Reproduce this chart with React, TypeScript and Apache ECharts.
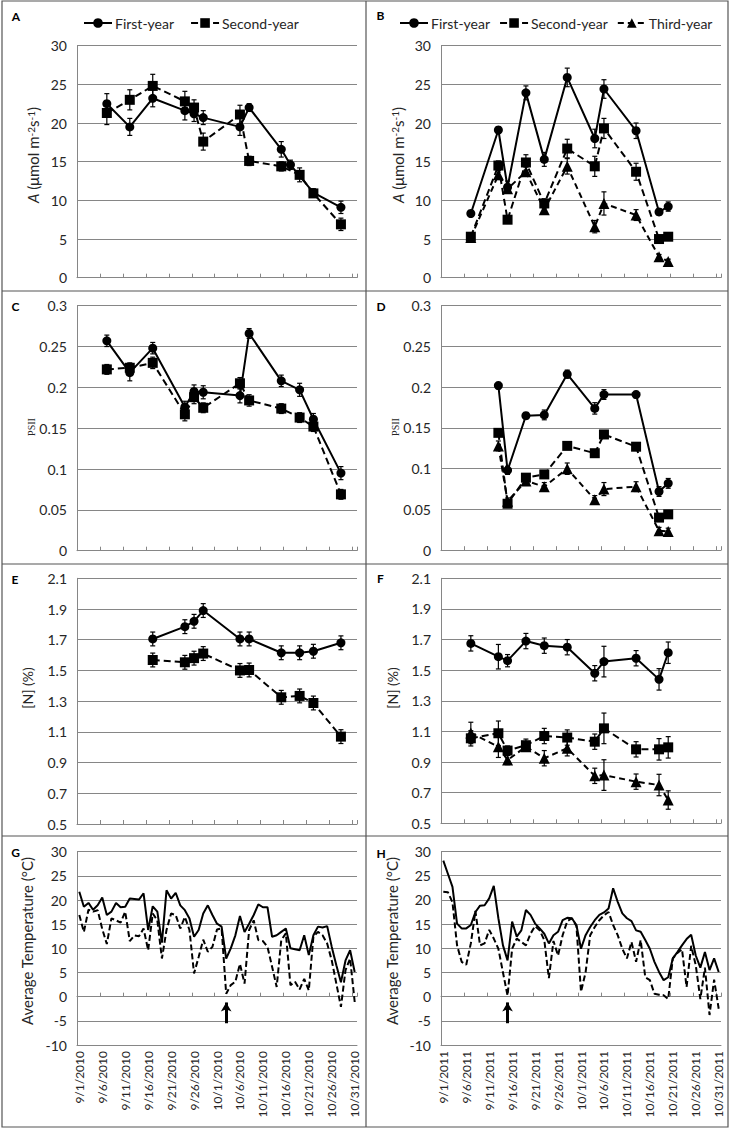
import React, { useEffect, useRef } from "react";
import * as echarts from "echarts";

const FONT = 'Lato, "Open Sans", sans-serif';
const SERIF = '"Liberation Serif", "DejaVu Serif", serif';
const GRID_COLOR = "#868686";
const TEXT = "#262626";
const BORDER = "#555";

function seasonDays(year: number): string[] {
  const out: string[] = [];
  for (let d = 1; d <= 30; d++) out.push(`9/${d}/${year}`);
  for (let d = 1; d <= 31; d++) out.push(`10/${d}/${year}`);
  return out;
}
const days2010 = seasonDays(2010);
const days2011 = seasonDays(2011);

// ---- measurement dates ----
const datesA1 = ["9/7", "9/12", "9/17", "9/24", "9/26", "9/28", "10/6", "10/8", "10/15", "10/17", "10/22", "10/28"];
const datesA2 = ["9/7", "9/12", "9/17", "9/24", "9/26", "9/28", "10/6", "10/8", "10/15", "10/19", "10/22", "10/28"];
const datesC = ["9/7", "9/12", "9/17", "9/24", "9/26", "9/28", "10/6", "10/8", "10/15", "10/19", "10/22", "10/28"];
const datesE = ["9/17", "9/24", "9/26", "9/28", "10/6", "10/8", "10/15", "10/19", "10/22", "10/28"];
const dates2011 = ["9/7", "9/13", "9/15", "9/19", "9/23", "9/28", "10/4", "10/6", "10/13", "10/18", "10/20"];
const datesD = ["9/13", "9/15", "9/19", "9/23", "9/28", "10/4", "10/6", "10/13", "10/18", "10/20"];

// ---- A: photosynthesis 2010 ----
const aFirst = [22.5, 19.5, 23.2, 21.6, 21.2, 20.7, 19.5, 22.0, 16.6, 14.6, 11.0, 9.1];
const aFirstErr = [1.3, 1.1, 1.1, 1.2, 1.0, 0.9, 1.1, 0.5, 1.0, 0.6, 0.5, 0.8];
const aSecond = [21.3, 23.0, 24.8, 22.8, 22.0, 17.6, 21.1, 15.1, 14.4, 13.3, 10.9, 6.9];
const aSecondErr = [1.5, 1.3, 1.5, 1.3, 1.0, 1.1, 1.2, 0.6, 0.6, 0.9, 0.5, 0.8];

// ---- B: photosynthesis 2011 ----
const bFirst = [8.3, 19.1, 11.7, 23.9, 15.3, 25.9, 18.0, 24.4, 19.0, 8.5, 9.2];
const bFirstErr = [0.3, 0.4, 0.8, 0.9, 0.9, 1.2, 1.2, 1.2, 1.0, 0.4, 0.6];
const bSecond = [5.3, 14.5, 7.5, 14.9, 9.6, 16.7, 14.4, 19.3, 13.7, 5.0, 5.3];
const bSecondErr = [0.3, 0.6, 0.4, 1.0, 0.6, 1.2, 1.3, 1.3, 1.1, 0.3, 0.3];
const bThird = [5.2, 13.3, 11.5, 13.7, 8.8, 14.4, 6.6, 9.6, 8.1, 2.7, 2.1];
const bThirdErr = [0.3, 0.6, 0.5, 0.6, 0.6, 1.0, 0.8, 1.5, 0.7, 0.3, 0.3];

// ---- C: PSII 2010 ----
const cFirst = [0.257, 0.218, 0.248, 0.176, 0.195, 0.194, 0.19, 0.266, 0.208, 0.197, 0.161, 0.095];
const cFirstErr = [0.007, 0.01, 0.007, 0.007, 0.008, 0.008, 0.009, 0.006, 0.007, 0.008, 0.007, 0.008];
const cSecond = [0.222, 0.224, 0.23, 0.167, 0.188, 0.175, 0.205, 0.184, 0.174, 0.163, 0.152, 0.069];
const cSecondErr = [0.006, 0.006, 0.007, 0.008, 0.008, 0.006, 0.007, 0.007, 0.006, 0.006, 0.006, 0.006];

// ---- D: PSII 2011 ----
const dFirst = [0.202, 0.098, 0.165, 0.166, 0.216, 0.174, 0.191, 0.191, 0.072, 0.082];
const dFirstErr = [0.004, 0.005, 0.004, 0.006, 0.005, 0.007, 0.006, 0.004, 0.006, 0.006];
const dSecond = [0.144, 0.057, 0.089, 0.093, 0.128, 0.119, 0.142, 0.127, 0.04, 0.044];
const dSecondErr = [0.004, 0.004, 0.004, 0.004, 0.004, 0.004, 0.004, 0.004, 0.004, 0.004];
const dThird = [0.128, 0.06, 0.085, 0.078, 0.1, 0.062, 0.075, 0.078, 0.024, 0.023];
const dThirdErr = [0.006, 0.004, 0.004, 0.005, 0.007, 0.005, 0.008, 0.006, 0.004, 0.004];

// ---- E: [N] 2010 ----
const eFirst = [1.705, 1.785, 1.82, 1.89, 1.705, 1.705, 1.615, 1.615, 1.625, 1.68];
const eFirstErr = [0.045, 0.045, 0.045, 0.045, 0.045, 0.045, 0.045, 0.045, 0.045, 0.045];
const eSecond = [1.568, 1.553, 1.58, 1.61, 1.5, 1.503, 1.325, 1.334, 1.288, 1.069];
const eSecondErr = [0.045, 0.045, 0.045, 0.045, 0.045, 0.045, 0.045, 0.045, 0.045, 0.045];

// ---- F: [N] 2011 ----
const fFirst = [1.675, 1.588, 1.562, 1.69, 1.66, 1.65, 1.48, 1.556, 1.578, 1.44, 1.614];
const fFirstErr = [0.05, 0.08, 0.04, 0.05, 0.05, 0.05, 0.05, 0.1, 0.05, 0.07, 0.07];
const fSecond = [1.055, 1.088, 0.975, 1.01, 1.07, 1.06, 1.033, 1.12, 0.983, 0.983, 0.996];
const fSecondErr = [0.05, 0.08, 0.03, 0.04, 0.05, 0.05, 0.05, 0.1, 0.05, 0.07, 0.07];
const fThird = [1.09, 1.0, 0.913, 1.0, 0.925, 0.99, 0.81, 0.815, 0.772, 0.75, 0.652];
const fThirdErr = [0.07, 0.07, 0.03, 0.03, 0.05, 0.05, 0.05, 0.1, 0.05, 0.07, 0.06];

// ---- G/H: daily average temperature ----
const tempG1 = [21.7, 18.6, 19.4, 18.0, 18.9, 20.5, 16.9, 17.6, 19.4, 18.5,
  18.6, 20.3, 20.2, 20.1, 21.4, 13.8, 18.7, 17.6, 11.2, 22.0,
  20.3, 21.5, 18.9, 17.9, 16.2, 12.4, 13.8, 17.2, 18.9, 16.9,
  15.1, 14.5, 7.9, 10.0, 12.7, 16.7, 13.4, 15.1, 16.9, 19.1,
  18.5, 18.5, 12.4, 12.7, 13.4, 14.1, 10.0, 9.8, 9.6, 12.7,
  8.6, 12.7, 14.5, 14.3, 14.6, 10.3, 6.5, 3.0, 7.5, 9.6, 5.1];
const tempG2 = [16.9, 13.4, 18.0, 17.6, 17.9, 14.0, 10.9, 16.2, 15.8, 15.3,
  17.6, 11.5, 12.7, 12.5, 14.1, 9.6, 17.2, 15.8, 7.9, 13.8,
  17.2, 16.9, 14.1, 16.5, 13.8, 4.8, 8.2, 11.8, 9.3, 10.3,
  13.9, 14.1, 0.6, 2.4, 3.1, 6.8, 2.7, 13.8, 15.8, 11.7,
  11.5, 10.3, 6.2, 2.0, 11.7, 13.1, 2.4, 3.1, 1.5, 3.7,
  1.3, 12.4, 13.4, 12.7, 11.0, 7.5, 2.7, -2.1, 5.5, 7.9, -1.1];
const tempH1 = [28.1, 25.4, 22.7, 15.1, 14.1, 14.1, 14.8, 17.5, 18.8, 18.9,
  20.3, 22.9, 16.2, 10.6, 7.5, 15.5, 12.4, 13.7, 17.9, 16.9,
  15.1, 14.1, 13.0, 11.0, 12.7, 13.4, 15.8, 16.3, 16.2, 14.8,
  9.9, 12.7, 14.4, 15.8, 16.9, 17.4, 18.2, 22.4, 19.6, 17.2,
  16.2, 15.6, 13.7, 13.4, 11.7, 9.9, 7.2, 5.1, 3.4, 4.0,
  7.9, 9.2, 10.6, 11.9, 12.8, 8.5, 6.0, 9.2, 5.5, 7.9, 5.1];
const tempH2 = [21.7, 21.6, 19.5, 10.6, 7.2, 6.6, 11.0, 17.7, 10.6, 11.0,
  13.8, 12.0, 9.9, 5.0, 0.2, 9.9, 12.0, 11.3, 10.6, 13.0,
  14.6, 13.7, 11.7, 3.8, 11.5, 8.5, 12.7, 15.6, 16.2, 14.6,
  1.0, 5.0, 12.7, 14.4, 15.8, 16.8, 17.5, 14.8, 12.7, 9.9,
  7.9, 11.3, 7.2, 11.7, 4.0, 3.4, 0.6, 0.4, 0.3, -0.5,
  7.9, 9.0, 9.8, 2.0, 10.5, 6.5, -0.5, 6.0, -3.8, 3.5, -2.5];

// frost events marked by arrows
const arrowG = "10/3/2010";
const arrowH = "9/15/2011";
const arrowFrom = -5.5;
const arrowTo = -1.2;

// ---- y axis ranges ----
const yRanges = [
  { min: 0, max: 30, interval: 5 },
  { min: 0, max: 30, interval: 5 },
  { min: 0, max: 0.3, interval: 0.05 },
  { min: 0, max: 0.3, interval: 0.05 },
  { min: 0.5, max: 2.1, interval: 0.2 },
  { min: 0.5, max: 2.1, interval: 0.2 },
  { min: -10, max: 30, interval: 5 },
  { min: -10, max: 30, interval: 5 },
];

const panels = [
  { left: 77, top: 45.7, width: 280, height: 232 },
  { left: 441, top: 45.7, width: 280, height: 232 },
  { left: 77, top: 305.7, width: 280, height: 245 },
  { left: 441, top: 305.7, width: 280, height: 244.5 },
  { left: 77, top: 578.3, width: 280, height: 245.7 },
  { left: 441, top: 578.3, width: 280, height: 245 },
  { left: 77, top: 851.7, width: 280, height: 193.3 },
  { left: 441, top: 851.5, width: 280, height: 193.5 },
];

const SYM: Record<string, { symbol: string; size: number; dash: any }> = {
  "First-year": { symbol: "circle", size: 9, dash: "solid" },
  "Second-year": { symbol: "rect", size: 10, dash: [7, 4] },
  "Third-year": { symbol: "triangle", size: 11, dash: [6, 4] },
};

function lineSeries(name: string, g: number, dates: string[], year: number, values: number[]) {
  const s = SYM[name];
  return {
    type: "line",
    name,
    xAxisIndex: g,
    yAxisIndex: g,
    data: dates.map((d, i) => [`${d}/${year}`, values[i]]),
    symbol: s.symbol,
    symbolSize: s.size,
    showAllSymbol: true,
    lineStyle: { color: "#000", width: 2, type: s.dash },
    itemStyle: { color: "#000" },
    z: 3,
  };
}

function errSeries(g: number, dates: string[], year: number, values: number[], errs: number[]) {
  return {
    type: "custom",
    name: "err",
    xAxisIndex: g,
    yAxisIndex: g,
    silent: true,
    data: dates.map((d, i) => [`${d}/${year}`, values[i], errs[i]]),
    encode: { x: 0, y: 1 },
    renderItem: (params: any, api: any) => {
      const x = api.value(0);
      const y = api.value(1);
      const e = api.value(2);
      const lo = api.coord([x, y - e]);
      const hi = api.coord([x, y + e]);
      const cw = 2.5;
      const st = { stroke: "#000", lineWidth: 1.2 };
      return {
        type: "group",
        children: [
          { type: "line", shape: { x1: lo[0], y1: lo[1], x2: hi[0], y2: hi[1] }, style: st },
          { type: "line", shape: { x1: lo[0] - cw, y1: lo[1], x2: lo[0] + cw, y2: lo[1] }, style: st },
          { type: "line", shape: { x1: hi[0] - cw, y1: hi[1], x2: hi[0] + cw, y2: hi[1] }, style: st },
        ],
      };
    },
    z: 4,
  };
}

function both(name: string, g: number, dates: string[], year: number, v: number[], e: number[]) {
  return [lineSeries(name, g, dates, year, v), errSeries(g, dates, year, v, e)];
}

function tempSeries(g: number, cats: string[], values: number[], dashed: boolean, arrow?: string) {
  const s: any = {
    type: "line",
    name: dashed ? "temp-b" : "temp-a",
    xAxisIndex: g,
    yAxisIndex: g,
    data: cats.map((c, i) => [c, values[i]]),
    symbol: "none",
    lineStyle: { color: "#000", width: 2, type: dashed ? [6, 3] : "solid" },
    itemStyle: { color: "#000" },
    z: 3,
  };
  if (arrow) {
    s.markLine = {
      silent: true,
      symbol: ["none", "arrow"],
      symbolSize: [8, 9],
      label: { show: false },
      lineStyle: { color: "#000", width: 3, type: "solid" },
      data: [[{ coord: [arrow, arrowFrom] }, { coord: [arrow, arrowTo] }]],
    };
  }
  return s;
}

function buildOption() {
  const xAxis: any[] = panels.map((p, i) => ({
    type: "category",
    gridIndex: i,
    data: i % 2 === 0 ? days2010 : days2011,
    boundaryGap: true,
    axisLine: { show: true, onZero: false, lineStyle: { color: GRID_COLOR, width: 1 } },
    axisTick:
      i < 6
        ? { show: true, inside: true, length: 4, interval: 4, lineStyle: { color: GRID_COLOR } }
        : { show: false },
    axisLabel:
      i < 6
        ? { show: false }
        : { show: true, interval: 4, rotate: 90, fontSize: 12, fontFamily: FONT, color: TEXT, margin: 6 },
    splitLine: { show: false },
  }));
  // zero-crossing axes carrying the tick marks in G and H
  [6, 7].forEach((g) => {
    xAxis.push({
      type: "category",
      gridIndex: g,
      position: "bottom",
      data: g === 6 ? days2010 : days2011,
      boundaryGap: true,
      axisLine: { show: true, onZero: true, lineStyle: { color: GRID_COLOR, width: 1 } },
      axisTick: { show: true, inside: true, length: 4, interval: 4, lineStyle: { color: GRID_COLOR } },
      axisLabel: { show: false },
      splitLine: { show: false },
    });
  });

  const yAxis = panels.map((p, i) => ({
    type: "value",
    gridIndex: i,
    min: yRanges[i].min,
    max: yRanges[i].max,
    interval: yRanges[i].interval,
    axisLine: { show: true, lineStyle: { color: GRID_COLOR, width: 1 } },
    axisTick: { show: false },
    axisLabel: {
      fontSize: 14,
      fontFamily: FONT,
      color: TEXT,
      margin: 10,
      formatter: i === 4 || i === 5 ? (v: number) => v.toFixed(1) : undefined,
    },
    splitLine: { show: true, lineStyle: { color: GRID_COLOR, width: 1 } },
  }));

  const series: any[] = [
    ...both("First-year", 0, datesA1, 2010, aFirst, aFirstErr),
    ...both("Second-year", 0, datesA2, 2010, aSecond, aSecondErr),
    ...both("First-year", 1, dates2011, 2011, bFirst, bFirstErr),
    ...both("Second-year", 1, dates2011, 2011, bSecond, bSecondErr),
    ...both("Third-year", 1, dates2011, 2011, bThird, bThirdErr),
    ...both("First-year", 2, datesC, 2010, cFirst, cFirstErr),
    ...both("Second-year", 2, datesC, 2010, cSecond, cSecondErr),
    ...both("First-year", 3, datesD, 2011, dFirst, dFirstErr),
    ...both("Second-year", 3, datesD, 2011, dSecond, dSecondErr),
    ...both("Third-year", 3, datesD, 2011, dThird, dThirdErr),
    ...both("First-year", 4, datesE, 2010, eFirst, eFirstErr),
    ...both("Second-year", 4, datesE, 2010, eSecond, eSecondErr),
    ...both("First-year", 5, dates2011, 2011, fFirst, fFirstErr),
    ...both("Second-year", 5, dates2011, 2011, fSecond, fSecondErr),
    ...both("Third-year", 5, dates2011, 2011, fThird, fThirdErr),
    tempSeries(6, days2010, tempG1, false, arrowG),
    tempSeries(6, days2010, tempG2, true),
    tempSeries(7, days2011, tempH1, false, arrowH),
    tempSeries(7, days2011, tempH2, true),
  ];

  const legendBase = {
    top: 11,
    itemWidth: 28,
    itemHeight: 12,
    selectedMode: false,
    textStyle: { fontSize: 14, fontFamily: FONT, color: TEXT, padding: [0, 0, 0, -2] },
  };

  const letters = [
    ["A", 16, 16], ["B", 380.5, 15.5], ["C", 15.5, 306], ["D", 381, 306],
    ["E", 15, 579], ["F", 380.5, 578.5], ["G", 15.5, 852.5], ["H", 381, 853],
  ];

  const vName = (text: string, x: number, y: number, extra: any = {}) => ({
    type: "text",
    x,
    y,
    rotation: Math.PI / 2,
    style: {
      text,
      fontSize: 15,
      fontFamily: FONT,
      fill: TEXT,
      align: "center",
      verticalAlign: "middle",
      ...extra,
    },
  });

  const aRich = {
    i: { fontStyle: "italic", fontSize: 15, fontFamily: FONT, fill: TEXT },
    s: { fontSize: 10, fontFamily: FONT, fill: TEXT, verticalAlign: "top" },
  };

  const graphic: any[] = [
    { type: "rect", shape: { x: 2, y: 1, width: 726, height: 1126 }, style: { fill: "none", stroke: BORDER, lineWidth: 1.2 } },
    { type: "line", shape: { x1: 366, y1: 1, x2: 366, y2: 1127 }, style: { stroke: BORDER, lineWidth: 1.2 } },
    { type: "line", shape: { x1: 2, y1: 291, x2: 728, y2: 291 }, style: { stroke: BORDER, lineWidth: 1.2 } },
    { type: "line", shape: { x1: 2, y1: 564, x2: 728, y2: 564 }, style: { stroke: BORDER, lineWidth: 1.2 } },
    { type: "line", shape: { x1: 2, y1: 836, x2: 728, y2: 836 }, style: { stroke: BORDER, lineWidth: 1.2 } },
    ...letters.map(([t, x, y]) => ({
      type: "text",
      x,
      y,
      style: {
        text: t,
        fontSize: 12,
        fontWeight: "bold",
        fontFamily: FONT,
        fill: "#000",
        align: "center",
        verticalAlign: "middle",
      },
    })),
    vName("{i|A} (μmol m{s|-2}s{s|-1})", 33, 155, { rich: aRich }),
    vName("{i|A} (μmol m{s|-2}s{s|-1})", 397.5, 155, { rich: aRich }),
    vName("PSII", 31, 427, { fontSize: 10, fontFamily: SERIF }),
    vName("PSII", 395.5, 427, { fontSize: 10, fontFamily: SERIF }),
    vName("[N] (%)", 27, 688, { fontSize: 14 }),
    vName("[N] (%)", 392, 688, { fontSize: 14 }),
    vName("Average Temperature (°C)", 26.5, 941),
    vName("Average Temperature (°C)", 392, 941),
  ];

  return {
    animation: false,
    backgroundColor: "#fff",
    textStyle: { fontFamily: FONT },
    grid: panels.map((p) => ({ ...p, containLabel: false })),
    xAxis,
    yAxis,
    legend: [
      { ...legendBase, left: 78, itemGap: 16, data: ["First-year", "Second-year"] },
      { ...legendBase, left: 394, itemGap: 9, data: ["First-year", "Second-year", "Third-year"] },
    ],
    series,
    graphic,
  };
}

export default function App() {
  const ref = useRef<HTMLDivElement>(null);
  useEffect(() => {
    document.body.style.margin = "0";
    if (!ref.current) return;
    const chart = echarts.init(ref.current, undefined, { renderer: "svg" });
    chart.setOption(buildOption() as any);
    return () => chart.dispose();
  }, []);
  return (
    <div
      ref={ref}
      style={{ position: "absolute", left: 0, top: 0, width: 733, height: 1130, background: "#fff" }}
    />
  );
}
